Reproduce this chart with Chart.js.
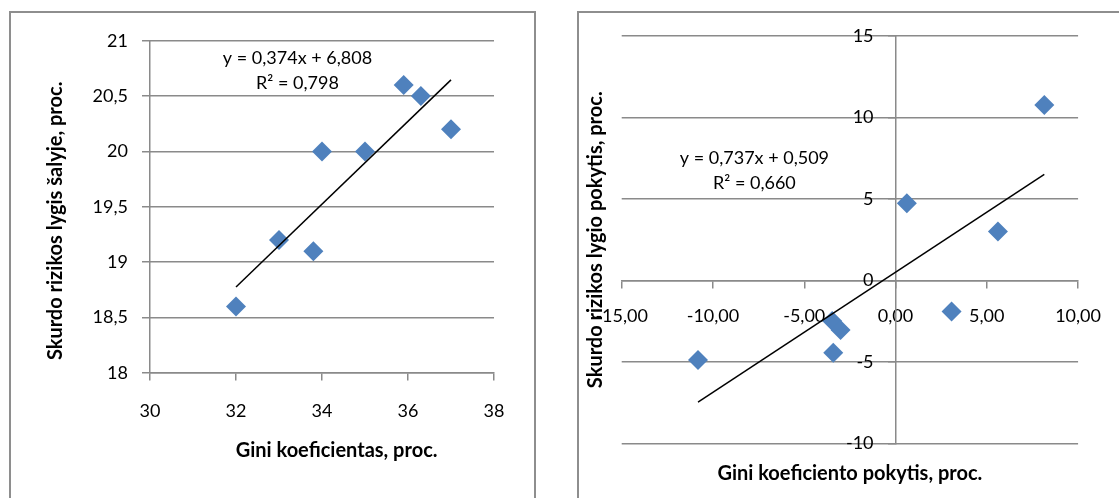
<!DOCTYPE html>
<html>
<head>
<meta charset="utf-8">
<script src="https://cdn.jsdelivr.net/npm/chart.js@4.4.0/dist/chart.umd.min.js"></script>
<style>
  html, body { margin: 0; padding: 0; background: #fff; overflow: hidden; }
  body { width: 1119px; height: 498px; position: relative; }
  .box { position: absolute; box-sizing: border-box; border: 2px solid #8e8e8e; }
  canvas { position: absolute; top: 0; }
</style>
</head>
<body>
<div class="box" style="left:9px; top:11px; width:527px; height:520px;"></div>
<div class="box" style="left:577px; top:11px; width:600px; height:520px;"></div>
<canvas id="levelChart" width="560" height="498" style="left:0"></canvas>
<canvas id="changeChart" width="559" height="498" style="left:560px"></canvas>
<script>
// left chart: levels
const giniLevel    = [32, 33, 33.8, 34, 35, 35.9, 36.3, 37];
const povertyLevel = [18.6, 19.2, 19.1, 20.0, 20.0, 20.6, 20.5, 20.2];
// right chart: changes
const giniChange    = [-10.82, -3.47, -3.01, -3.41, 0.62, 3.07, 5.61, 8.15];
const povertyChange = [-4.88, -2.49, -3.04, -4.43, 4.74, -1.90, 3.00, 10.76];

// trendlines as printed on the charts [level, change]
const trendSlope     = [0.374, 0.737];
const trendIntercept = [6.808, 0.509];
const trendR2        = [0.798, 0.660];

const levelXTicks  = [30, 32, 34, 36, 38];
const levelYTicks  = [18, 18.5, 19, 19.5, 20, 20.5, 21];
const changeXTicks = [-15, -10, -5, 0, 5, 10];
const changeYTicks = [-10, -5, 0, 5, 10, 15];

const BLUE = '#4F81BD';
const GRID = '#8a8a8a';
const FONT = 'Lato';

const comma = (v, d) => (d === undefined ? String(v) : v.toFixed(d)).replace('.', ',');

function trendPoints(xs, i) {
  const lo = Math.min(...xs), hi = Math.max(...xs);
  return [lo, hi].map(x => ({x: x, y: trendSlope[i] * x + trendIntercept[i]}));
}

// axis titles + trendline equation, Excel style
const excelText = {
  id: 'excelText',
  afterLayout(chart, args, o) {
    // y axis placed at a value puts its labels right on the line; move them off
    chart.scales.y.getLabelItems().forEach(it => { it.options.translation[0] -= o.yGap; });
  },
  afterDraw(chart, args, o) {
    const ctx = chart.ctx, a = chart.chartArea;
    const sx = chart.scales.x, sy = chart.scales.y;
    ctx.save();
    ctx.fillStyle = '#000';
    ctx.textAlign = 'center';
    ctx.textBaseline = 'middle';
    ctx.font = 'bold 20px ' + FONT;
    ctx.fillText(o.xTitle, (a.left + a.right) / 2 + o.xShift[0], a.bottom + o.xShift[1]);
    ctx.save();
    ctx.translate(a.left + o.yShift[0], (a.top + a.bottom) / 2 + o.yShift[1]);
    ctx.rotate(-Math.PI / 2);
    ctx.fillText(o.yTitle, 0, 0);
    ctx.restore();
    ctx.font = '18px ' + FONT;
    const ex = sx.getPixelForValue(o.eqAt[0]), ey = sy.getPixelForValue(o.eqAt[1]);
    o.eq.forEach((line, k) => ctx.fillText(line, ex, ey + k * 25.6));
    ctx.restore();
  }
};

function makeChart(id, xs, ys, i, xTicks, yTicks, cfg) {
  return new Chart(document.getElementById(id), {
    type: 'scatter',
    data: {
      datasets: [
        {
          type: 'line',
          data: trendPoints(xs, i),
          borderColor: '#000',
          borderWidth: 1.5,
          pointRadius: 0,
          fill: false
        },
        {
          data: xs.map((x, k) => ({x: x, y: ys[k]})),
          pointStyle: 'rectRot',
          pointRadius: 10,
          pointHoverRadius: 10,
          backgroundColor: BLUE,
          borderWidth: 0
        }
      ]
    },
    options: {
      responsive: false,
      animation: false,
      layout: {padding: cfg.padding},
      plugins: {
        legend: {display: false},
        tooltip: {enabled: false},
        excelText: {
          xTitle: cfg.xTitle, yTitle: cfg.yTitle,
          xShift: cfg.xShift, yShift: cfg.yShift,
          yGap: 22,
          eqAt: cfg.eqAt,
          eq: ['y = ' + comma(trendSlope[i], 3) + 'x + ' + comma(trendIntercept[i], 3),
               'R\u00b2 = ' + comma(trendR2[i], 3)]
        }
      },
      scales: {
        x: {
          type: 'linear',
          position: {y: cfg.xCross},
          min: xTicks[0], max: xTicks[xTicks.length - 1],
          grid: {drawOnChartArea: false, drawTicks: true, tickLength: 7, color: GRID, lineWidth: 1.5},
          border: {display: true, color: GRID, width: 1.5},
          ticks: {
            stepSize: xTicks[1] - xTicks[0], autoSkip: false, maxRotation: 0,
            padding: cfg.xPad, color: '#000', font: {family: FONT, size: 18},
            callback: v => comma(v, cfg.xDec)
          }
        },
        y: {
          type: 'linear',
          position: {x: cfg.yCross},
          min: yTicks[0], max: yTicks[yTicks.length - 1],
          grid: {drawTicks: true, tickLength: 7, color: GRID, lineWidth: 1.5},
          border: {display: true, color: GRID, width: 1.5},
          ticks: {
            stepSize: yTicks[1] - yTicks[0], autoSkip: false,
            padding: 16, color: '#000', font: {family: FONT, size: 18},
            callback: v => comma(v)
          }
        }
      }
    },
    plugins: [excelText]
  });
}

makeChart('levelChart', giniLevel, povertyLevel, 0, levelXTicks, levelYTicks, {
  padding: {left: 150, right: 66, top: 40.7, bottom: 125},
  xCross: 18, yCross: 30, xPad: 20, xDec: undefined,
  xTitle: 'Gini koeficientas, proc.',
  yTitle: 'Skurdo rizikos lygis šalyje, proc.',
  xShift: [14.6, 78], yShift: [-94, 14],
  eqAt: [33.43, 20.846]
});

makeChart('changeChart', giniChange, povertyChange, 1, changeXTicks, changeYTicks, {
  padding: {left: 61.7, right: 38.3, top: 36, bottom: 54.5},
  xCross: 0, yCross: 0, xPad: 18, xDec: 2,
  xTitle: 'Gini koeficiento pokytis, proc.',
  yTitle: 'Skurdo rizikos lygio pokytis, proc.',
  xShift: [0, 30], yShift: [-25.7, 0],
  eqAt: [-7.73, 7.53]
});
</script>
</body>
</html>
